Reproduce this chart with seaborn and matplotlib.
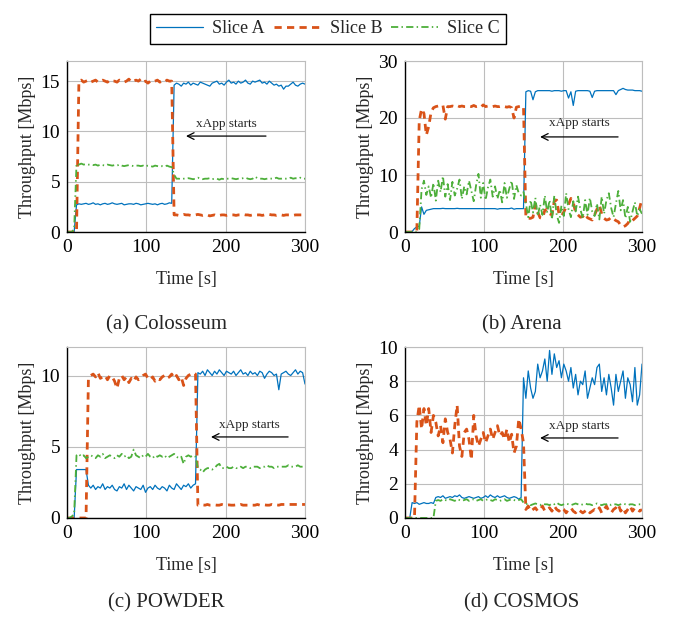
import numpy as np
import matplotlib
matplotlib.use("Agg")
import matplotlib.pyplot as plt
import seaborn as sns

# time axis shared by all four testbeds (one sample every 3 s)
time = np.arange(0, 301, 3)

slice_names = ["Slice A", "Slice B", "Slice C"]
panel_titles = ["(a) Colosseum", "(b) Arena", "(c) POWDER", "(d) COSMOS"]
ylims = [17, 30, 12, 10]
yticks = [[0, 5, 10, 15], [0, 10, 20, 30], [0, 5, 10], [0, 2, 4, 6, 8, 10]]
xticks = [0, 100, 200, 300]

# (a) Colosseum
colosseum_a = [
    0, 0, 0, 0, 2.7, 2.8, 2.75, 2.8, 2.85, 2.75,
    2.8, 2.9, 2.75, 2.8, 2.7, 2.8, 2.85, 2.75, 2.8, 2.9,
    2.8, 2.75, 2.8, 2.85, 2.7, 2.75, 2.8, 2.8, 2.75, 2.85,
    2.8, 2.7, 2.75, 2.8, 2.85, 2.8, 2.75, 2.8, 2.7, 2.8,
    2.85, 2.75, 2.8, 2.9, 2.85, 14.6, 14.8, 14.7, 14.5, 14.8,
    14.7, 14.9, 14.6, 14.8, 14.7, 14.6, 14.9, 14.8, 14.7, 14.6,
    14.5, 14.8, 14.9, 15.0, 14.7, 14.8, 14.6, 14.9, 15.1, 14.8,
    14.9, 14.7, 15.0, 14.8, 14.9, 15.1, 14.8, 14.7, 15.0, 14.9,
    15.0, 15.1, 14.8, 14.9, 14.7, 15.0, 14.8, 14.6, 14.7, 14.5,
    14.6, 14.2, 14.5, 14.5, 14.7, 14.9, 14.6, 14.5, 14.7, 14.8,
    14.7]
colosseum_b = [
    0, 0, 0, 0, 0, 15.0, 15.1, 14.9, 15.0, 15.1,
    14.9, 15.0, 15.1, 14.9, 15.0, 15.1, 15.0, 14.9, 15.1, 15.0,
    15.0, 14.9, 15.1, 15.0, 14.9, 15.0, 15.2, 14.9, 15.0, 15.1,
    15.0, 15.2, 14.9, 15.0, 14.8, 15.0, 14.9, 15.0, 15.1, 14.9,
    15.0, 14.9, 15.1, 15.0, 15.0, 1.7, 1.7, 1.65, 1.7, 1.75,
    1.7, 1.7, 1.65, 1.7, 1.7, 1.75, 1.7, 1.65, 1.7, 1.7,
    1.6, 1.65, 1.7, 1.6, 1.65, 1.7, 1.7, 1.65, 1.7, 1.7,
    1.7, 1.65, 1.7, 1.7, 1.75, 1.7, 1.7, 1.65, 1.7, 1.7,
    1.7, 1.7, 1.65, 1.7, 1.7, 1.75, 1.7, 1.7, 1.65, 1.7,
    1.7, 1.65, 1.7, 1.7, 1.7, 1.65, 1.7, 1.7, 1.7, 1.7,
    1.7]
colosseum_c = [
    0, 0, 0, 0.3, 6.8, 6.7, 6.8, 6.7, 6.75, 6.7,
    6.7, 6.65, 6.7, 6.6, 6.7, 6.65, 6.6, 6.7, 6.65, 6.6,
    6.65, 6.6, 6.7, 6.6, 6.55, 6.6, 6.65, 6.6, 6.55, 6.6,
    6.6, 6.55, 6.6, 6.5, 6.6, 6.55, 6.5, 6.6, 6.55, 6.5,
    6.55, 6.5, 6.6, 6.5, 6.45, 5.7, 5.3, 5.3, 5.25, 5.3,
    5.3, 5.35, 5.3, 5.25, 5.3, 5.4, 5.3, 5.25, 5.3, 5.3,
    5.35, 5.25, 5.3, 5.3, 5.2, 5.3, 5.25, 5.3, 5.3, 5.35,
    5.3, 5.25, 5.3, 5.3, 5.35, 5.4, 5.3, 5.25, 5.3, 5.5,
    5.35, 5.3, 5.3, 5.25, 5.3, 5.35, 5.3, 5.3, 5.4, 5.3,
    5.3, 5.35, 5.3, 5.3, 5.4, 5.3, 5.35, 5.3, 5.4, 5.3,
    5.3]

# (b) Arena
arena_a = [
    0, 0, 0, 0.1, 0.6, 0.9, 1.0, 4.4, 3.1, 3.8,
    3.9, 4.0, 4.1, 4.1, 4.1, 4.1, 4.15, 4.1, 4.1, 4.1,
    4.1, 4.1, 4.15, 4.1, 4.1, 4.1, 4.1, 4.1, 4.1, 4.1,
    4.1, 4.1, 4.1, 4.1, 4.1, 4.1, 4.1, 4.1, 4.1, 4.0,
    4.1, 4.1, 4.1, 4.1, 4.1, 4.2, 4.0, 4.1, 4.1, 4.1,
    4.1, 24.6, 24.8, 24.7, 23.2, 24.6, 24.8, 24.8, 24.8, 24.8,
    24.8, 24.8, 24.7, 24.8, 24.8, 24.8, 24.7, 24.8, 24.8, 23.5,
    24.6, 22.2, 24.7, 24.8, 24.8, 24.8, 24.8, 24.8, 24.7, 23.6,
    24.7, 24.8, 24.8, 24.8, 24.8, 24.8, 24.8, 24.8, 24.8, 24.1,
    24.8, 25.0, 25.2, 25.0, 24.9, 24.9, 24.9, 24.8, 24.8, 24.8,
    24.7]
arena_b = [
    0, 0, 0, 0, 0, 0.2, 19.5, 21.6, 20.8, 17.0,
    18.5, 21.0, 21.8, 22.0, 22.1, 22.0, 22.2, 19.8, 22.0, 22.0,
    22.1, 22.0, 22.2, 22.0, 22.1, 22.0, 22.0, 22.1, 22.0, 22.2,
    22.0, 22.1, 21.9, 22.3, 22.0, 22.1, 22.0, 22.0, 22.1, 22.0,
    22.0, 22.1, 22.0, 21.9, 22.0, 21.8, 20.0, 21.9, 22.0, 22.1,
    22.0, 2.5, 2.4, 2.4, 2.6, 4.8, 3.5, 2.5, 2.4, 3.8,
    4.0, 3.2, 3.0, 5.4, 5.6, 3.1, 2.8, 3.5, 4.4, 4.8,
    5.9, 5.2, 3.4, 3.0, 2.6, 2.7, 3.2, 2.5, 2.3, 2.1,
    3.0, 4.0, 4.7, 3.2, 2.4, 2.1, 2.2, 2.6, 2.3, 2.0,
    1.8, 1.2, 0.9, 1.1, 1.5, 2.2, 2.0, 2.4, 2.8, 4.2,
    5.8]
arena_c = [
    0, 0, 0, 0, 0, 0, 0.5, 7.5, 9.0, 6.5,
    8.0, 6.0, 8.6, 5.5, 9.0, 7.0, 9.8, 6.2, 8.4, 5.6,
    8.8, 6.4, 7.6, 9.2, 5.8, 8.0, 6.6, 9.0, 7.2, 5.4,
    8.2, 10.2, 6.0, 8.6, 5.6, 7.8, 9.2, 6.2, 8.0, 5.8,
    7.4, 5.2, 8.6, 6.0, 7.6, 9.0, 5.8, 8.2, 6.8, 6.4,
    7.0, 5.0, 2.6, 5.6, 3.4, 6.0, 2.8, 4.8, 3.0, 6.4,
    3.4, 5.6, 2.2, 6.4, 3.0, 1.6, 4.6, 2.8, 6.8, 4.0,
    2.6, 5.4, 3.6, 6.2, 4.0, 2.4, 5.6, 3.0, 6.0, 3.6,
    2.8, 5.0, 2.2, 6.2, 3.2, 5.6, 6.8, 4.2, 2.6, 5.0,
    7.2, 3.8, 5.6, 2.4, 4.4, 1.8, 3.6, 5.2, 2.8, 4.0,
    3.2]

# (c) POWDER
powder_a = [
    0, 0, 0, 0, 3.4, 3.4, 3.4, 3.4, 3.4, 2.3,
    2.1, 2.3, 2.0, 2.2, 2.1, 2.4, 2.0, 2.2, 2.1, 2.3,
    2.0, 1.9, 2.2, 2.1, 2.4, 2.0, 2.3, 2.1, 1.9, 2.2,
    2.1, 2.0, 2.3, 1.8, 2.1, 2.2, 2.0, 2.3, 2.1, 2.0,
    2.2, 2.1, 1.9, 2.3, 2.1, 2.0, 2.4, 2.2, 2.0, 2.3,
    2.2, 2.4, 2.1, 2.3, 2.4, 10.2, 10.1, 10.3, 10.0, 10.4,
    10.2, 10.0, 10.3, 10.1, 10.4, 10.2, 10.0, 10.3, 10.2, 10.1,
    10.3, 10.0, 10.2, 10.4, 10.1, 10.2, 10.0, 10.3, 10.1, 10.2,
    10.0, 10.3, 10.2, 9.8, 10.1, 10.3, 10.2, 10.0, 10.1, 9.0,
    10.1, 10.2, 10.3, 10.1, 10.0, 10.2, 10.4, 10.1, 10.3, 10.2,
    9.4]
powder_b = [
    0, 0, 0, 0, 0, 0, 0, 0, 0, 9.8,
    10.0, 10.1, 9.9, 10.2, 9.8, 9.9, 10.0, 9.7, 10.0, 9.9,
    9.6, 9.1, 9.8, 10.0, 9.7, 9.9, 9.5, 9.8, 9.6, 9.9,
    9.7, 9.8, 10.0, 10.1, 9.8, 9.7, 9.9, 9.6, 9.8, 9.7,
    9.9, 10.0, 9.8, 9.9, 10.1, 9.8, 10.0, 9.7, 9.9, 9.3,
    9.8, 10.0, 10.1, 10.2, 10.1, 0.9, 0.9, 0.92, 0.9, 0.95,
    0.9, 0.9, 0.92, 0.9, 0.9, 0.95, 0.9, 0.9, 0.92, 0.9,
    0.9, 0.92, 0.9, 0.95, 0.9, 0.9, 0.9, 0.92, 0.9, 0.9,
    0.95, 0.9, 0.9, 0.92, 0.9, 0.9, 0.95, 0.9, 0.92, 0.9,
    0.95, 0.95, 0.95, 0.95, 0.95, 0.95, 0.95, 0.95, 0.95, 0.95,
    0.95]
powder_c = [
    0, 0, 0.1, 0.3, 4.4, 4.5, 4.3, 4.4, 4.2, 4.3,
    4.4, 4.3, 4.2, 4.4, 4.3, 4.5, 4.2, 4.3, 4.4, 4.3,
    4.2, 4.4, 4.3, 4.5, 4.3, 4.4, 4.2, 4.3, 4.8, 4.4,
    4.3, 4.2, 4.4, 4.3, 4.5, 4.3, 4.2, 4.4, 4.3, 4.4,
    4.3, 4.4, 4.2, 4.3, 4.4, 4.5, 4.3, 4.2, 4.3, 3.8,
    4.3, 4.4, 4.3, 4.4, 4.3, 3.5, 3.4, 3.2, 3.4, 3.5,
    3.5, 3.4, 3.5, 3.7, 3.8, 3.5, 3.5, 3.6, 3.5, 3.5,
    3.6, 3.5, 3.5, 3.6, 3.5, 3.6, 3.6, 3.5, 3.6, 3.6,
    3.6, 3.5, 3.6, 3.6, 3.7, 3.6, 3.6, 3.5, 3.6, 3.6,
    3.6, 3.6, 3.6, 3.7, 3.6, 3.6, 3.6, 3.7, 3.6, 3.6,
    3.6]

# (d) COSMOS
cosmos_a = [
    0, 0, 0, 0.9, 0.85, 0.9, 0.8, 0.85, 0.9, 0.85,
    0.85, 0.9, 0.85, 1.2, 1.25, 1.2, 1.3, 1.15, 1.2, 1.25,
    1.2, 1.3, 1.25, 1.35, 1.2, 1.15, 1.2, 1.25, 1.2, 1.15,
    1.2, 1.25, 1.15, 1.2, 1.3, 1.2, 1.35, 1.25, 1.2, 1.3,
    1.2, 1.25, 1.3, 1.2, 1.15, 1.2, 1.25, 1.2, 1.1, 1.2,
    8.2, 7.0, 8.6, 7.6, 7.0, 7.4, 9.0, 8.2, 8.6, 9.3,
    8.0, 9.8, 8.4, 9.6, 8.8, 9.2, 8.2, 9.0, 8.6, 8.0,
    8.8, 7.6, 8.4, 7.2, 8.0, 7.8, 8.6, 7.0, 7.6, 8.2,
    7.8, 8.8, 9.0, 7.4, 8.2, 7.2, 8.4, 7.6, 6.6, 8.4,
    7.4, 8.0, 8.6, 7.0, 8.2, 7.8, 6.8, 8.8, 6.6, 7.2,
    9.0]
cosmos_b = [
    0, 0, 0, 0, 0, 5.6, 6.6, 5.2, 6.4, 5.4,
    6.4, 5.0, 6.0, 5.6, 4.8, 5.4, 4.4, 5.8, 5.0, 4.6,
    3.8, 5.4, 6.6, 4.2, 3.6, 5.0, 5.2, 4.6, 3.4, 6.0,
    4.8, 4.2, 4.6, 5.0, 4.4, 4.8, 5.2, 4.6, 5.0, 5.4,
    4.8, 5.0, 4.6, 5.2, 4.4, 4.9, 3.8, 4.2, 5.8, 5.2,
    4.4, 0.5, 0.7, 0.4, 0.5, 0.6, 0.4, 0.5, 0.7, 0.4,
    0.5, 0.6, 0.4, 0.7, 0.5, 0.4, 0.6, 0.5, 0.3, 0.5,
    0.6, 0.4, 0.3, 0.5, 0.4, 0.3, 0.4, 0.5, 0.3, 0.4,
    0.5, 0.4, 0.6, 0.3, 0.5, 0.7, 0.4, 0.3, 0.5, 0.6,
    0.8, 0.4, 0.6, 0.3, 0.5, 0.7, 0.4, 0.6, 0.5, 0.4,
    0.5]
cosmos_c = [
    0, 0, 0, 0, 0, 0, 0, 0, 0, 0,
    0, 0, 0, 1.0, 1.05, 1.0, 1.1, 1.05, 1.0, 1.1,
    1.05, 1.0, 1.1, 1.05, 1.0, 1.05, 1.1, 1.0, 1.05, 1.1,
    1.0, 1.05, 1.1, 1.0, 1.05, 1.1, 1.05, 1.0, 1.1, 1.05,
    1.0, 1.05, 1.1, 1.0, 1.05, 1.1, 1.05, 1.0, 1.05, 1.1,
    0.9, 0.8, 0.85, 0.75, 0.8, 0.85, 0.8, 0.75, 0.85, 0.8,
    0.8, 0.75, 0.85, 0.8, 0.9, 0.8, 0.75, 0.8, 0.85, 0.8,
    0.75, 0.8, 0.85, 0.8, 0.75, 0.8, 0.85, 0.8, 0.8, 0.75,
    0.8, 0.85, 0.8, 0.75, 0.8, 0.8, 0.85, 0.75, 0.8, 0.8,
    0.75, 0.8, 0.85, 0.8, 0.75, 0.8, 0.8, 0.75, 0.8, 0.8,
    0.8]

panels = [
    (colosseum_a, colosseum_b, colosseum_c),
    (arena_a, arena_b, arena_c),
    (powder_a, powder_b, powder_c),
    (cosmos_a, cosmos_b, cosmos_c),
]

colors = ["#0072BD", "#D95319", "#4DAF3A"]
styles = [
    dict(lw=0.9, linestyle="-"),
    dict(lw=2.0, linestyle=(0, (2.6, 1.9))),
    dict(lw=1.3, linestyle=(0, (4, 1.8, 0.8, 1.8))),
]

# where the "xApp starts" arrow goes, in axes fractions
# (text x, text y, tail x, head x, arrow y)
arrows = [
    (0.668, 0.632, 0.836, 0.50, 0.561),
    (0.734, 0.637, 0.899, 0.57, 0.556),
    (0.765, 0.544, 0.929, 0.605, 0.474),
    (0.734, 0.538, 0.899, 0.57, 0.468),
]

sns.set_theme(style="white")
plt.rcParams['font.family'] = ['Liberation Serif', 'DejaVu Serif']

fig = plt.figure(figsize=(6.8, 6.22), dpi=100)
W, H = 680, 622
# axes boxes in pixels: left, top, right, bottom
boxes = [(67, 61, 305, 232), (405, 61, 642, 232),
         (67, 347, 305, 518), (405, 347, 642, 518)]
caption_pos = [(166, 325), (522, 325), (166, 603), (522, 603)]

axes = []
for i, (l, t, r, b) in enumerate(boxes):
    ax = fig.add_axes([l / W, 1 - b / H, (r - l) / W, (b - t) / H])
    axes.append(ax)
    for k, series in enumerate(panels[i]):
        sns.lineplot(x=time, y=series, ax=ax, color=colors[k],
                     label=slice_names[k], legend=False, **styles[k])
    ax.set_xlim(0, 300)
    ax.set_ylim(0, ylims[i])
    ax.set_xticks(xticks)
    ax.set_yticks(yticks[i])
    ax.grid(True, color="#bdbdbd", lw=0.8)
    ax.set_axisbelow(True)
    for side in ["top", "right"]:
        ax.spines[side].set_color("#bdbdbd")
        ax.spines[side].set_linewidth(0.8)
    for side in ["left", "bottom"]:
        ax.spines[side].set_color("black")
        ax.spines[side].set_linewidth(1.0)
    ax.tick_params(length=0, labelsize=14, pad=5, colors="black")
    ax.set_xlabel("Time [s]", fontsize=13, labelpad=11)
    ax.set_ylabel("Throughput [Mbps]", fontsize=13, labelpad=3)

    tx, ty, x0, x1, ay = arrows[i]
    ax.annotate("", xy=(x1, ay), xytext=(x0, ay), xycoords="axes fraction",
                arrowprops=dict(arrowstyle="->", color="black", lw=0.9,
                                shrinkA=0, shrinkB=0))
    ax.text(tx, ty, "xApp starts", transform=ax.transAxes, fontsize=9.5,
            ha="center", va="center")

    cx, cy = caption_pos[i]
    fig.text(cx / W, 1 - cy / H, panel_titles[i], fontsize=15,
             ha="center", va="center")

handles, labels = axes[0].get_legend_handles_labels()
fig.legend(handles, labels, loc="upper center",
           bbox_to_anchor=(328 / W, 1 - 5 / H), ncol=3, fontsize=13,
           frameon=True, fancybox=False, edgecolor="black", framealpha=1,
           handlelength=2.6, columnspacing=0.5, handletextpad=0.5,
           borderpad=0.35)

fig.savefig("out.png", dpi=100)
